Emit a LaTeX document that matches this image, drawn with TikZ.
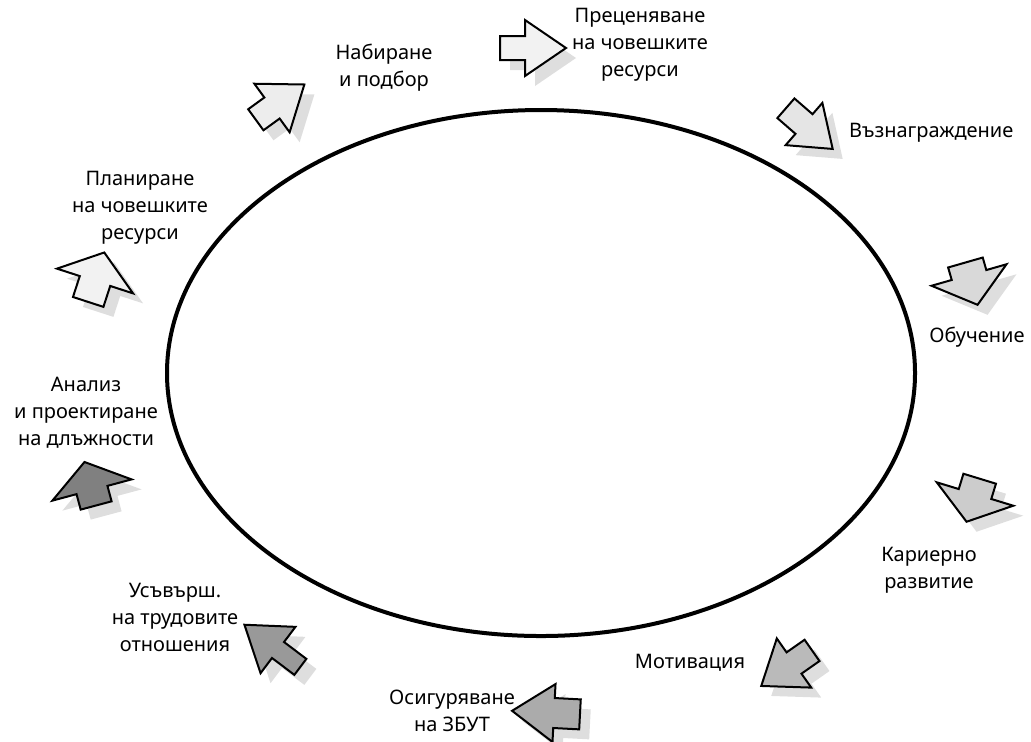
\documentclass[tikz,border=0pt]{standalone}
\usepackage{fontspec}
\setmainfont{Noto Sans}[Language=Bulgarian]

\tikzset{
  lbl/.style={align=center, font=\fontsize{10}{13.5}\selectfont},
  arrowbody/.style={draw=black, line width=1pt, line join=miter},
  arrowshadow/.style={fill=black!13},
  % стрелка с основа на главата в (0,0); \hl, \hw, \tw, \tl идват от цикъла
  blockarrow/.pic={
    \path[pic actions] (-\tl,-\tw) -- (0,-\tw) -- (0,-\hw) -- (\hl,0)
      -- (0,\hw) -- (0,\tw) -- (-\tl,\tw) -- cycle;
  }
}

\begin{document}
\begin{tikzpicture}[x=0.5pt, y=-0.5pt]
        % рамка на картинката (в пиксели)
        \useasboundingbox (0,0) rectangle (1031,741);
        % голямата елипса
        \def\ecx{541}
        \def\ecy{373}
        \draw[line width=2pt] (\ecx,\ecy) ellipse [x radius=374, y radius=263];
        % стрелките: основа x / основа y / ъгъл / глава дълж. / глава полуш. /
        % опашка полуш. / опашка дълж. / процент черно
        \foreach \bx/\by/\ang/\hl/\hw/\tw/\tl/\shade [count=\i] in
          {525/48/0/41/28/12/25/5, 272/108/36/40/30/13/20/7,
           95/281/72/30/40/16/22/5, 92/490/105/29/41/16/16/50,
           278/650/143/42/29/10/28/40, 554/713/177/42/29/15/26/33,
           794/663/-145/40/30/13/22/27, 975/494/-107/29/40/17/16/20,
           969/275/-74/31/39/18/13/15, 804/124/-41/38/28/13/24/10}
        {
          \pic[arrowshadow, rotate=\ang] (sh\i) at (\bx+10,\by+10) {blockarrow};
          \pic[arrowbody, fill=black!\shade, rotate=\ang] (ar\i) at (\bx,\by) {blockarrow};
        }
        % надписи
        \node[lbl] (t1) at (640,45) {Преценяване\\на човешките\\ресурси};
        \node[lbl] (t2) at (384,68) {Набиране\\и подбор};
        \node[lbl, anchor=west] (t3) at (842,133) {Възнаграждение};
        \node[lbl] (t4) at (140,208) {Планиране\\на човешките\\ресурси};
        \node[lbl] (t5) at (977,337) {Обучение};
        \node[lbl] (t6) at (86,413) {Анализ\\и проектиране\\на длъжности};
        \node[lbl] (t7) at (929,570) {Кариерно\\развитие};
        \node[lbl] (t8) at (690,663) {Мотивация};
        \node[lbl] (t9) at (175,617) {Усъвърш.\\на трудовите\\отношения};
        \node[lbl] (t10) at (452,711) {Осигуряване\\на ЗБУТ};
\end{tikzpicture}
\end{document}
